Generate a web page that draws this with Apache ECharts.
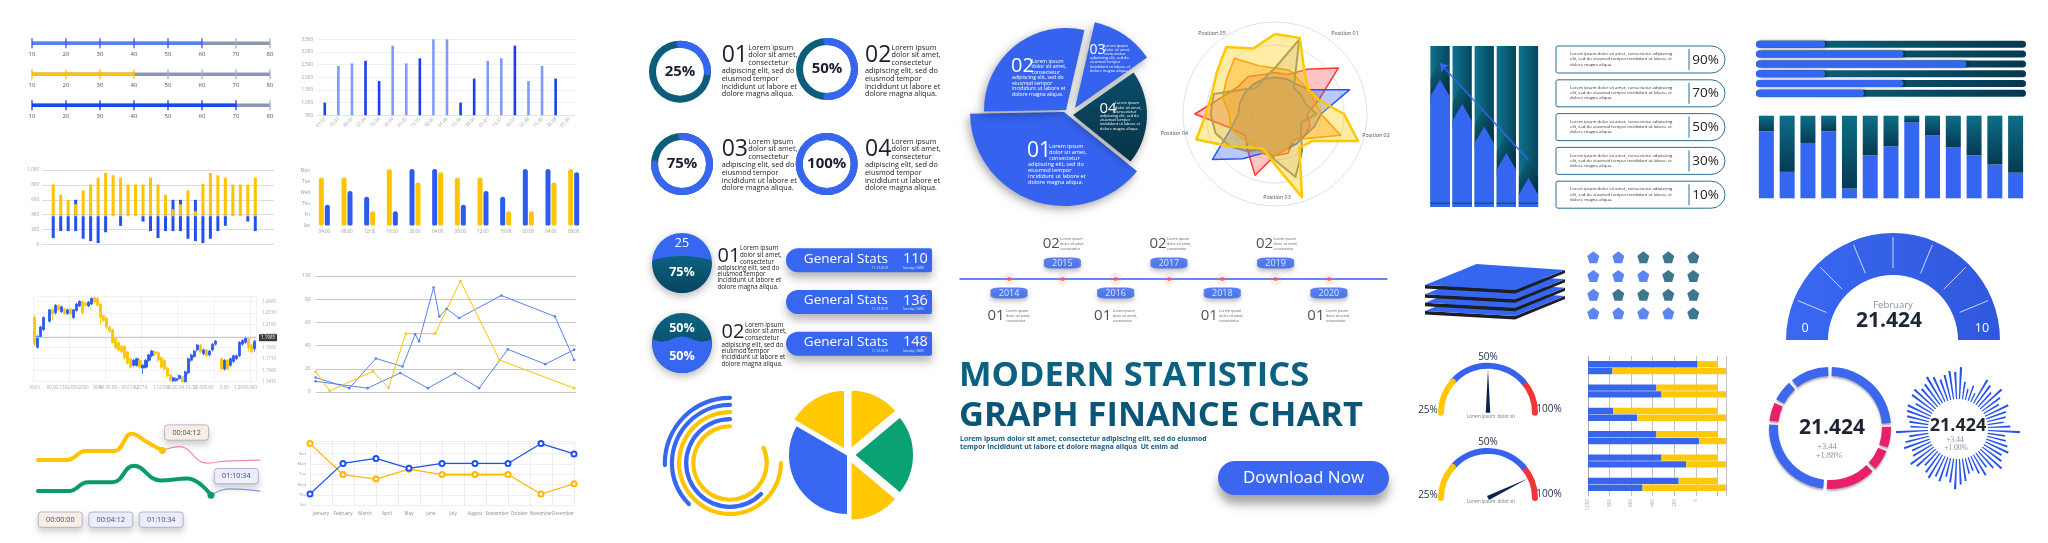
<!DOCTYPE html>
<html><head><meta charset="utf-8">
<script src="https://cdn.jsdelivr.net/npm/echarts@6.0.0/dist/echarts.min.js"></script>
<style>html,body{margin:0;padding:0;background:#fff;overflow:hidden}#c{width:2048px;height:543px}</style>
</head><body><div id="c"></div>
<script>
// ================= DATA =================
const sliderTicks = [10,20,30,40,50,60,70,80];
const sliderValues = [60,40,70];

const thinBarDates = ['01.03','15.03','30.03','01.04','15.04','30.04','01.05','15.05','30.05','01.06','15.06','30.06','01.07','15.07','30.07','01.08','15.08','30.08','01.09'];
const thinBarValues = [1000,2450,2550,2650,1850,3250,2550,2750,3550,3550,1000,1950,2650,2750,3250,1850,2450,1950,null];
const thinBarDark = [1,0,0,1,1,0,0,1,0,0,1,1,0,0,1,0,0,1,0];

const rangeBase = 380;
const rangeTop = [805,667,600,540,728,805,898,960,929,898,805,805,805,898,805,667,472,540,728,446,815,960,929,898,805,805,805,898];
const rangeBottom = [87,180,180,180,77,46,20,164,null,251,null,null,308,180,87,180,180,180,77,46,20,77,180,251,null,null,308,180];
const rangeBlueTop = [null,null,null,600,null,null,null,null,null,null,null,null,null,null,null,null,600,600,null,600,null,null,null,null,null,null,null,null];

const pairLabels = ['04:00','08:00','12:00','16:00','20:00','04:00','08:00','12:00','16:00','20:00','04:00','08:00'];
const pairYLabels = ['Sat','Fri','Thu','Wed','Tue','Mon'];
const pairLeft = [4.4,4.4,2.64,5.18,5.18,5.18,4.4,4.4,2.64,5.18,5.18,5.18];
const pairLeftTone = ['y','y','b','y','b','b','y','y','b','b','b','y'];
const pairRight = [1.9,3.17,1.3,1.3,3.94,4.9,1.9,3.17,1.3,1.3,3.94,4.9];
const pairRightTone = ['b','b','y','b','y','y','b','b','y','y','y','b'];

// [open, close, low, high]
const candles = [
 [250,180,175,256],[172,200,168,204],[200,225,197,228],[218,250,215,253],null,
 [240,270,236,272],[270,260,242,275],[262,282,258,285],[282,270,266,286],[265,278,262,281],
 [272,260,256,275],[260,270,257,273],[272,260,255,276],[250,270,246,272],[268,285,265,288],
 [280,292,277,295],[292,262,258,295],[288,282,279,291],[280,290,277,293],[285,300,282,302],
 [302,290,286,304],[300,282,278,303],[285,250,230,288],[255,242,238,258],[248,225,221,251],
 [225,215,210,228],[218,185,181,221],[195,170,166,198],[185,165,161,188],[175,160,156,178],
 [175,145,141,178],[160,130,126,163],[142,120,116,145],[125,138,121,141],[125,142,121,145],
 [138,120,116,141],[118,125,102,128],[120,138,116,141],[138,152,134,155],[150,162,146,165],
 [160,155,151,163],[158,138,134,161],[145,120,116,148],[138,115,111,141],[118,97,93,121],
 [100,85,82,103],[84,92,81,95],[85,90,82,93],[90,98,87,101],[95,82,80,98],
 [82,108,80,111],[105,142,101,145],[138,152,134,155],[148,162,144,165],[165,178,161,181],
 [178,160,156,181],[155,165,151,168],[165,150,146,168],[152,162,148,165],[165,180,161,183],
 [180,188,176,191],null,
 [142,115,111,145],[115,138,111,141],[138,115,111,141],[125,142,121,145],[135,150,131,153],
 [142,150,138,153],[150,185,146,188],[180,190,176,193],[185,197,181,200],[195,170,160,198],
 [178,160,156,181],[168,188,160,191]
];
const candleTicks = ['16:01','00.00.13','02/03/2020','90%','16.00.00 - 18.01.02','1.2774','1.12786','2020.04.19.12','10.000.00','0.00','1.2000.000'];
const candleMark = 197;

const lineYellow = [[0,17.4],[5.4,1],[22,17.8],[28,3.6],[34.6,50.3],[45.9,50.3],[55.6,95.7],[70.6,27.6],[99.3,3.3]];
const lineBlueA = [[0,12.5],[12.9,3.3],[23.1,28.9],[33.4,22],[38.2,49.7],[39.7,43.8],[45.3,90.1],[47.5,65.1],[50.3,71.7],[55.1,63.8],[71.3,83.2],[91.9,65.1],[99.3,27.6]];
const lineBlueB = [[0,9.2],[19.9,3.3],[32.5,16.4],[43.1,3.3],[53.4,16.1],[62.8,3.3],[73.8,36.8],[88.2,24],[99.3,36.5]];

const waveYellow = [[0,39.4],[28.7,39.4],[47.8,48.6],[76.5,48.6],[93.7,65.8],[109,57.4],[124.4,49]];
const wavePink = [[124.4,49],[141.6,52.8],[168.4,36.4],[187.5,38.3],[222,39.4]];
const waveGreen = [[0,8.4],[30.6,8.4],[49.8,17.2],[74.6,17.2],[95.7,33.7],[122.5,19.1],[149.3,21],[173,4.2]];
const waveBlue = [[173,4.2],[191.3,10.7],[222,8.4]];
const waveTimes = ['00:00:00','00:04:12','01:10:34'];

const monthNames = ['January','February','March','April','May','June','July','August','September','October','November','December'];
const monthYLabels = ['Sat','Thu','Wed','Tue','Mon','Sun'];
const monthBlue = [1.07,4.04,4.52,3.56,4.04,4.04,4.04,5.96,4.96];
const monthYellow = [5.96,2.96,2.52,3.48,2.96,2.96,2.96,1.07,2.07];

const donutPct = [25,50,75,100];
const donutNums = ['01','02','03','04'];
const lorem7 = ['Lorem ipsum','dolor sit amet,','consectetur','adipiscing elit, sed do','eiusmod tempor','incididunt ut labore et','dolore magna aliqua.'];

const waveTopText = ['25','50%'];
const waveBottomText = ['75%','50%'];
const statsLabel = 'General Stats';
const statsValues = [110,136,148];
const statsDate = '11.12.2019';

const arcValues = [81.7,62.5,75,37.5,25.5];     // inner -> outer
const arcTone = ['y','b','y','b','b'];
const pieValues = [50,80,50,120,60];
const pieTone = ['y','g','y','b','y'];
const pieOut = [1,1,1,0,1];

const segNames = ['02','03','04','01'];
const segValues = [104,42,74,140];

const radarLabels = ['Position 01','Position 02','Position 03','Position 04','Position 05'];
// read clockwise from 12 o'clock, 18 deg steps
const radarRed    = [0.45,0.45,0.6,0.85,0.5,0.35,0.4,0.4,0.35,0.45,0.45,0.7,0.5,0.4,0.5,0.87,0.6,0.5,0.5,0.45];
const radarBlue   = [0.4,0.4,0.4,0.45,0.85,0.5,0.45,0.4,0.4,0.4,0.45,0.45,0.6,0.84,0.5,0.4,0.4,0.4,0.4,0.4];
const radarOrange = [0.5,0.5,0.45,0.45,0.45,0.5,0.75,0.45,0.35,0.4,0.45,0.45,0.4,0.45,0.5,0.5,0.6,0.65,0.75,0.55];
const radarGrey   = [0.5,0.85,0.35,0.35,0.35,0.45,0.3,0.35,0.5,0.72,0.5,0.4,0.5,0.6,0.68,0.7,0.7,0.45,0.35,0.4];
const radarYellow = [0.87,0.87,0.55,0.45,0.5,0.75,0.95,0.5,0.45,0.95,0.55,0.4,0.45,0.6,0.9,0.75,0.72,0.78,0.9,0.75];

const timelineYears = [2014,2015,2016,2017,2018,2019,2020];
const loremShort = 'Lorem ipsum\ndolor sit amet,\nconsectetur';
const titleLines = ['MODERN STATISTICS','GRAPH FINANCE CHART'];
const subtitleLines = ['Lorem ipsum dolor sit amet, consectetur adipiscing elit, sed do eiusmod','tempor incididunt ut labore et dolore magna aliqua  Ut enim ad'];
const buttonText = 'Download Now';

const arrowBarValues = [79,64,50,33.5,18];
const percentValues = [90,70,50,30,10];
const loremBox = ['Lorem ipsum dolor sit amet, consectetur adipiscing','elit, sed do eiusmod tempor incididunt ut labore et','dolore magna aliqua.'];
const layerCount = 4;
const pentagonFilled = [2,3,1,4];
const pentagonCols = 5;

const progressValues = [25.6,54.6,78,25.6,54.6,40];
const columnValues = [81,32,67,81,12,52,63,92,76,62,52,41,31];

const gaugeMonth = 'February';
const gaugeValue = 21.424;
const gaugeRange = [0,10];
const ringSegments = [82,22,22,48,85,20,22,38];
const ringTone = ['b','r','r','r','b','r','b','b'];
const ringTexts = ['21.424','+3.44','+1.88%'];
const burstValues = [1.0,0.55,0.35,0.5,0.3,0.85,0.75,0.6,0.9,0.7,0.55,0.8,0.65,0.6,0.5,0.7,1.0,0.55,0.6,0.7,0.8,0.65,0.75,0.9,0.7,0.55,0.75,0.6,0.45,0.5,0.7,0.8,0.95,0.75,0.6,0.8,0.7,0.85,0.75,0.6,0.8,0.9,0.7,0.65,0.85,0.75,0.6,1.0,0.55,0.6,0.7,0.75,0.8,0.6,0.85,0.9,0.75,0.8,0.95,0.85,0.7,0.8,0.9,0.85];
const burstTexts = ['21.424','+3.44','+1.00%'];

const smallGaugeValues = [50,85.6];
const smallGaugeLabels = ['25%','50%','100%'];
const smallGaugeCaption = 'Lorem ipsum  dolor sit';

const hbarTopBlue = [79.4,49.6,18.2,49.6,53.3,65.7];
const hbarTopTotal = 93.7;
const hbarBotBlue = [17.7,53.3,35.6,80.4,71.2,39.5];
const hbarBotTotal = 100;
const hbarTicks = ['1,000','800','600','400','200','0'];

// ================= BUILD =================
const FONT = "'Open Sans','Noto Sans','DejaVu Sans',sans-serif";
const SERIF = "'Liberation Serif','DejaVu Serif',serif";
const BLUE = '#3766f0', TEAL = '#0b5d7a', YEL = '#ffc600', GREEN = '#0ba273';
const HID = {show:false};
const TR = 'rgba(0,0,0,0)';
const G = [];
const opt = {animation:false, backgroundColor:'#ffffff', textStyle:{fontFamily:FONT},
  grid:[], xAxis:[], yAxis:[], polar:[], angleAxis:[], radiusAxis:[], radar:[], series:[], graphic:{elements:G}};

function grid(g, xa, ya){
  opt.grid.push(Object.assign({containLabel:false, outerBoundsMode:'none'}, g));
  const gi = opt.grid.length-1;
  const xs = [].concat(xa).map(a=>{opt.xAxis.push(Object.assign({gridIndex:gi}, a)); return opt.xAxis.length-1;});
  const ys = [].concat(ya).map(a=>{opt.yAxis.push(Object.assign({gridIndex:gi}, a)); return opt.yAxis.length-1;});
  return {x:xs[0], y:ys[0], xs, ys};
}
function S(s){ opt.series.push(Object.assign({silent:true, animation:false}, s)); }
function T(x, y, text, s){
  s = Object.assign({fontSize:8, fill:'#222', align:'left', va:'middle', fontWeight:'normal', fontFamily:FONT, z:100}, s||{});
  const st = {text:text, fontFamily:s.fontFamily, fontSize:s.fontSize, fontWeight:s.fontWeight, fill:s.fill,
    align:s.align, textAlign:s.align, verticalAlign:s.va, textVerticalAlign:s.va};
  if (s.lineHeight) st.lineHeight = s.lineHeight;
  G.push({type:'text', x:x, y:y, z:s.z, silent:true, style:st});
}
function lin(c1, c2, horiz){ return {type:'linear', x:0, y:0, x2:horiz?1:0, y2:horiz?0:1, colorStops:[{offset:0,color:c1},{offset:1,color:c2}]}; }

// ---- Panel 1: sliders
const sliderLine = ['#5c7ef3','#ffc400','#1e46f0'];
const sliderTickC = ['#2f57f0','#ffb800','#1238e8'];
sliderValues.forEach((v,i)=>{
  const cy = 43.3 + i*31;
  const g = grid({left:32, top:cy-6, width:238, height:12},
    {type:'value', min:10, max:80, interval:10, axisLine:HID, axisTick:HID, splitLine:HID, axisLabel:{fontSize:6, color:'#4a5070', margin:2}},
    {type:'category', data:['s'], show:false});
  S({type:'bar', xAxisIndex:g.x, yAxisIndex:g.y, data:[sliderTicks[sliderTicks.length-1]], barWidth:3.5, barGap:'-100%', clip:true, itemStyle:{color:'#8e96b4'}});
  S({type:'bar', xAxisIndex:g.x, yAxisIndex:g.y, data:[v], barWidth:3.5, barGap:'-100%', clip:true, itemStyle:{color:sliderLine[i]}});
  S({type:'scatter', xAxisIndex:g.x, yAxisIndex:g.y, symbol:'rect', symbolSize:[1.6,10],
     data:sliderTicks.map(t=>({value:[t,'s'], itemStyle:{color:t<=v?sliderTickC[i]:'#a6adc6'}}))});
});

// ---- Panel 2: thin bars
{
const g = grid({left:318, top:39.3, width:258, height:76},
  {type:'category', data:thinBarDates, axisLine:{lineStyle:{color:'#e3e3e3'}}, axisTick:HID, axisLabel:{fontSize:4.5, color:'#9a9a9a', rotate:45, interval:0, margin:3}},
  {type:'value', min:500, max:3500, interval:500, axisLine:HID, axisTick:HID, axisLabel:{fontSize:4.5, color:'#9a9a9a', margin:5}, splitLine:{lineStyle:{color:'#efefef'}}});
S({type:'bar', xAxisIndex:g.x, yAxisIndex:g.y, barWidth:2.6, clip:true,
   data:thinBarValues.map((v,i)=>({value:v, itemStyle:{color:thinBarDark[i]?'#1a3ff0':'#7e9cf6'}}))});
}

// ---- Panel 3: range bars
{
const pad = a => [null].concat(a, [null,null]);
const cats = pad(rangeTop).map((_,i)=>i);
const g = grid({left:42, top:170, width:232, height:74.5},
  {type:'category', data:cats, axisLine:HID, axisTick:HID, axisLabel:HID},
  {type:'value', min:0, max:1000, interval:200, axisLine:HID, axisTick:HID, axisLabel:{fontSize:4.5, color:'#9a9a9a', margin:3}, splitLine:{lineStyle:{color:'#dcdcdc'}}});
const base = {type:'bar', xAxisIndex:g.x, yAxisIndex:g.y, barWidth:3, barGap:'-100%'};
S(Object.assign({}, base, {stack:'u', data:pad(rangeBlueTop.map(v=>v==null?null:rangeBase)), itemStyle:{color:TR}}));
S(Object.assign({}, base, {stack:'u', data:pad(rangeBlueTop.map(v=>v==null?null:v-rangeBase)), itemStyle:{color:'#2350f0'}}));
S(Object.assign({}, base, {stack:'y', data:pad(rangeTop.map(()=>rangeBase)), itemStyle:{color:TR}}));
S(Object.assign({}, base, {stack:'y', data:pad(rangeTop.map(v=>v-rangeBase)), itemStyle:{color:'#ffc400'}}));
S(Object.assign({}, base, {stack:'d', data:pad(rangeBottom.map(v=>v==null?null:v)), itemStyle:{color:TR}}));
S(Object.assign({}, base, {stack:'d', data:pad(rangeBottom.map(v=>v==null?null:rangeBase-v)), itemStyle:{color:'#2350f0'}}));
}

// ---- Panel 4: paired bars
{
const g = grid({left:313, top:168.9, width:272, height:56.5},
  {type:'category', data:pairLabels, axisLine:HID, axisTick:HID, axisLabel:{fontSize:4.5, color:'#9a9a9a', margin:4, interval:0}},
  {type:'value', min:0, max:5.2, interval:1, axisLine:HID, axisTick:HID, splitLine:HID, axisLabel:{fontSize:4.5, color:'#9a9a9a', margin:3, formatter:v=>pairYLabels[v]||''}});
const col = t => t==='y' ? '#ffc400' : '#2d5bf0';
S({type:'bar', xAxisIndex:g.x, yAxisIndex:g.y, barWidth:5, barGap:'20%', data:pairLeft.map((v,i)=>({value:v, itemStyle:{color:col(pairLeftTone[i]), borderRadius:[2.5,2.5,1.5,1.5]}}))});
S({type:'bar', xAxisIndex:g.x, yAxisIndex:g.y, barWidth:5, barGap:'20%', data:pairRight.map((v,i)=>({value:v, itemStyle:{color:col(pairRightTone[i]), borderRadius:[2.5,2.5,1.5,1.5]}}))});
}

// ---- Panel 5: candlestick
{
const g = grid({left:33, top:296.4, width:223, height:85.3},
  {type:'category', data:candles.map((_,i)=>i), axisLine:HID, axisTick:HID,
   axisLabel:{fontSize:4.5, color:'#a8a8a8', interval:6, margin:4, formatter:(v,i)=>candleTicks[Math.round(i/7)]||''},
   splitLine:{show:true, interval:11, lineStyle:{color:'#f0f0f0'}}},
  {type:'value', position:'right', min:82, max:305, interval:30, axisLine:HID, axisTick:HID,
   axisLabel:{fontSize:4.5, color:'#a8a8a8', margin:6, showMaxLabel:false, formatter:v=>(1.1+v/2000).toFixed(4)},
   splitLine:{lineStyle:{color:'#f3f3f3'}}});
S({type:'candlestick', xAxisIndex:g.x, yAxisIndex:g.y, barWidth:2.6,
   data:candles.map(c=>c||'-'),
   itemStyle:{color:'#2a5af0', color0:'#ffc400', borderColor:'#2a5af0', borderColor0:'#ffc400', borderWidth:0.8},
   markLine:{silent:true, symbol:'none', data:[{yAxis:candleMark}], lineStyle:{color:'#c9c9c9', type:'solid', width:1},
     label:{position:'end', formatter:()=>(1.1+candleMark/2000).toFixed(4), fontSize:4.5, color:'#fff', backgroundColor:'#3a3a3a', padding:[1,2], distance:3}}});
}

// ---- Panel 6: multi line
{
const g = grid({left:315.7, top:276, width:260.3, height:116},
  {type:'value', min:0, max:100, show:false},
  {type:'value', min:0, max:100, interval:20, axisLine:HID, axisTick:HID, axisLabel:{fontSize:5, color:'#9a9a9a', margin:5}, splitLine:{lineStyle:{color:'#c8c8c8'}}});
const ln = (d,c)=>S({type:'line', xAxisIndex:g.x, yAxisIndex:g.y, data:d, symbol:'circle', symbolSize:2.6, lineStyle:{color:c, width:1}, itemStyle:{color:c}});
ln(lineBlueB,'#5a80f0'); ln(lineBlueA,'#5a80f0'); ln(lineYellow,'#ffc400');
}

// ---- Panel 7: wave lines
{
const g = grid({left:38, top:429.5, width:222, height:70},
  {type:'value', min:0, max:222, show:false}, {type:'value', min:0, max:70, show:false});
const wl = (d,c,w,endDot)=>S({type:'line', xAxisIndex:g.x, yAxisIndex:g.y, data:d, smooth:0.45, clip:false, symbol:'none', lineStyle:{color:c, width:w, cap:'round'}, z:3,
  markPoint: endDot ? {symbol:'circle', symbolSize:7, data:[{coord:d[d.length-1]}], itemStyle:{color:c}, label:HID} : undefined});
wl(wavePink,'#ef8fac',1.2); wl(waveBlue,'#86a0f0',1.2);
wl(waveYellow,'#ffc400',4,true); wl(waveGreen,'#0b9a6b',4,true);
const box = (x,y,t,fill)=>G.push({type:'rect', z:50, shape:{x:x,y:y,width:44,height:15.3,r:3}, style:{fill:fill, stroke:'#9ea7cc', lineWidth:0.8, shadowBlur:6, shadowOffsetY:4, shadowColor:'rgba(0,0,0,0.18)'}},
  {type:'text', z:51, x:x+22, y:y+7.8, style:{text:t, fontFamily:FONT, fontSize:7.2, fill:'#3b4a86', align:'center', verticalAlign:'middle', textAlign:'center', textVerticalAlign:'middle'}});
box(164.6,424.9,waveTimes[1],'#fdf1e5');
box(214.3,468.5,waveTimes[2],'#eef0fb');
box(38.3,512,waveTimes[0],'#fdf1e5');
box(88.8,512,waveTimes[1],'#eef0fb');
box(139.2,512,waveTimes[2],'#eef0fb');
}

// ---- Panel 8: months
{
const g = grid({left:310, top:441.1, width:264, height:64},
  [{type:'category', data:monthBlue.map((_,i)=>i), boundaryGap:false, show:false},
   {type:'category', data:monthNames, position:'bottom', axisLine:HID, axisTick:HID, axisLabel:{fontSize:4.5, color:'#8a8a8a', margin:6, interval:0}, splitLine:{show:true, lineStyle:{color:'#ececec'}}}],
  {type:'value', min:0, max:6.2, interval:1, axisLine:HID, axisTick:HID, axisLabel:{fontSize:4, color:'#9a9a9a', margin:4, formatter:v=>monthYLabels[v]||''}, splitLine:{lineStyle:{color:'#efefef'}}});
S({type:'line', xAxisIndex:g.xs[0], yAxisIndex:g.y, data:monthYellow.map((v,i)=>(i>=4&&i<=6)?v:null), symbol:'none', lineStyle:{color:'rgba(255,200,0,0.45)', width:3.5}});
S({type:'line', xAxisIndex:g.xs[0], yAxisIndex:g.y, data:monthYellow, clip:false, symbol:'emptyCircle', symbolSize:5, lineStyle:{color:'#ffb700', width:1.2}, itemStyle:{color:'#ffb700', borderWidth:1.2}});
S({type:'line', xAxisIndex:g.xs[0], yAxisIndex:g.y, data:monthBlue, clip:false, symbol:'emptyCircle', symbolSize:5, lineStyle:{color:'#1f4ff0', width:1.2}, itemStyle:{color:'#1f4ff0', borderWidth:1.2}});
}

// ---- Donuts
const donutCenters = [[680,71.7],[827,69],[682,164],[826.7,164]];
donutPct.forEach((p,i)=>{
  const c = donutCenters[i];
  G.push({type:'circle', shape:{cx:c[0], cy:c[1], r:25}, style:{fill:'#fff', shadowBlur:6, shadowOffsetY:2, shadowColor:'rgba(0,0,0,0.3)'}});
  S({type:'gauge', center:c, radius:31, startAngle:90, endAngle:-270, min:0, max:100,
     axisLine:{lineStyle:{width:7, color:[[1,TEAL]]}}, progress:{show:true, width:7, roundCap:true, itemStyle:{color:BLUE}},
     pointer:HID, anchor:HID, axisTick:HID, splitLine:HID, axisLabel:HID, title:HID,
     detail:{formatter:'{value}%', fontSize:15, fontFamily:FONT, color:'#1b2030', offsetCenter:[0,0]},
     data:[{value:p}]});
  const nx = i%2===0 ? 721.7 : 865;
  const ny = i<2 ? 55.7 : 149.3;
  T(nx, ny, donutNums[i], {fontSize:23, fill:'#1b2030'});
  const ys = i<2 ? [47.7,55.3,63,71,79,86.7,94] : [141.7,149.3,157,165,172.7,180.7,188.3];
  lorem7.forEach((l,k)=>T(k<3?nx+26.5:nx, ys[k], l, {fontSize:7.3, fill:'#222'}));
});

// ---- Wave circles
function waveRegion(cx, cy, r, level, amp, cycles, phase){
  const pts=[], N=48;
  for(let k=0;k<=N;k++){ const x=-r+2*r*k/N, h=Math.sqrt(Math.max(0,r*r-x*x));
    let w = level + amp*Math.sin((x+r)/(2*r)*Math.PI*2*cycles + phase);
    w = Math.max(-h, Math.min(h, w)); pts.push([cx+x, cy+w]); }
  for(let k=N;k>=0;k--){ const x=-r+2*r*k/N, h=Math.sqrt(Math.max(0,r*r-x*x)); pts.push([cx+x, cy+h]); }
  return pts;
}
{
const wc = [[682,263],[682,343]];
G.push({type:'circle', shape:{cx:wc[0][0], cy:wc[0][1], r:30}, style:{fill:BLUE, shadowBlur:8, shadowOffsetY:3, shadowColor:'rgba(0,0,0,0.3)'}});
G.push({type:'polygon', shape:{points:waveRegion(wc[0][0],wc[0][1],30,-3,4,0.5,Math.PI)}, style:{fill:lin('#0b6380','#08435e')}});
G.push({type:'circle', shape:{cx:wc[1][0], cy:wc[1][1], r:30}, style:{fill:lin('#0b6380','#08435e'), shadowBlur:8, shadowOffsetY:3, shadowColor:'rgba(0,0,0,0.3)'}});
G.push({type:'polygon', shape:{points:waveRegion(wc[1][0],wc[1][1],30,-4,2.5,1.5,0)}, style:{fill:BLUE}});
T(682,243.5,waveTopText[0],{fontSize:12.5, fill:'#fff', align:'center'});
T(682,272.7,waveBottomText[0],{fontSize:12.5, fill:'#fff', align:'center', fontWeight:'bold'});
T(682,328,waveTopText[1],{fontSize:12.5, fill:'#fff', align:'center', fontWeight:'bold'});
T(682,356.7,waveBottomText[1],{fontSize:12.5, fill:'#fff', align:'center', fontWeight:'bold'});
T(717.5,256.7,'01',{fontSize:20, fill:'#1b2030'});
[248.3,255,262.3,268.3,274.3,280.7,287.3].forEach((y,k)=>T(k<3?740:717.5, y, lorem7[k], {fontSize:6.2}));
T(721.5,332,'02',{fontSize:20, fill:'#1b2030'});
[325,331.7,338.3,345,351.7,357.7,364.3].forEach((y,k)=>T(k<3?745:721.5, y, lorem7[k], {fontSize:6.2}));
}

// ---- General stats
statsValues.forEach((v,i)=>{
  const y = [248.3,290,331.7][i];
  G.push({type:'rect', shape:{x:786, y:y, width:146, height:24, r:[12,2,2,12]}, style:{fill:BLUE, shadowBlur:9, shadowOffsetY:6, shadowColor:'rgba(0,0,0,0.28)'}});
  T(888, y+10.5, statsLabel, {fontSize:13.5, fill:'#fff', align:'right'});
  T(903, y+10.5, String(v), {fontSize:14.5, fill:'#fff'});
  T(888, y+19.5, statsDate, {fontSize:3.2, fill:'#dfe6ff', align:'right'});
  T(903, y+19.5, 'Saturday 1/8/89', {fontSize:2.8, fill:'#dfe6ff'});
  G.push({type:'rect', z:100, shape:{x:925, y:y+4.5, width:3, height:1.5}, style:{fill:'#ff4040'}});
});

// ---- Concentric arcs (polar)
{
opt.polar.push({center:[730,463], radius:[33.2,68.7]});
const pi = opt.polar.length-1;
opt.angleAxis.push({polarIndex:pi, type:'value', min:0, max:100, startAngle:90, clockwise:false, show:false});
opt.radiusAxis.push({polarIndex:pi, type:'category', data:arcValues.map((_,i)=>'r'+i), show:false});
S({type:'bar', coordinateSystem:'polar', polarIndex:pi, barWidth:4.2, roundCap:true,
   data:arcValues.map((v,i)=>({value:v, itemStyle:{color:arcTone[i]==='y'?'#ffc400':BLUE}}))});
}

// ---- Pie
S({type:'pie', center:[848,455], radius:60, startAngle:90, selectedMode:'multiple', selectedOffset:6, label:HID, labelLine:HID,
   itemStyle:{borderColor:'#fff', borderWidth:2},
   data:pieValues.map((v,i)=>({value:v, name:'p'+i, selected:!!pieOut[i], itemStyle:{color:pieTone[i]==='y'?'#ffc800':pieTone[i]==='g'?GREEN:BLUE}}))});

// ---- Exploded pie
{
const segStyle = {'02':{c:[1066,110], r:82, col:'#3563ef'}, '03':{c:[1075,108], r:88, col:'#3563ef'}, '04':{c:[1073,115], r:74, col:lin('#0b4d6b','#073246')}, '01':{c:[1064,112], r:94, col:'#3563ef'}};
['01','02','03','04'].forEach(nm=>{
  const p = segStyle[nm];
  S({type:'pie', center:p.c, radius:p.r, startAngle:181, clockwise:true, label:HID, labelLine:HID, emphasis:{disabled:true},
     data:segValues.map((v,j)=>({value:v, name:segNames[j], itemStyle: segNames[j]===nm ? {color:p.col, shadowBlur:10, shadowOffsetX:-2, shadowOffsetY:3, shadowColor:'rgba(0,0,0,0.35)'} : {color:TR}}))});
});
T(1027,151,'01',{fontSize:21, fill:'#fff'});
[146.7,152.3,158,164,170,176,182].forEach((y,k)=>T(k<3?1049:1028, y, lorem7[k], {fontSize:5.6, fill:'#fff'}));
T(1011,66.7,'02',{fontSize:20, fill:'#fff'});
[61.7,66.7,72.3,77.7,83.3,89,94.3].forEach((y,k)=>T(k<3?1031.5:1012, y, lorem7[k], {fontSize:5.2, fill:'#fff'}));
T(1089.5,50,'03',{fontSize:14, fill:'#fff'});
[45.7,50,54,58.3,62.3,66.7,70.7].forEach((y,k)=>T(k<3?1104:1090, y, lorem7[k], {fontSize:3.9, fill:'#fff'}));
T(1099.5,108.3,'04',{fontSize:15, fill:'#fff'});
[103,107.7,112,116,120.3,124.3,128.7].forEach((y,k)=>T(k<3?1115:1100, y, lorem7[k], {fontSize:3.9, fill:'#fff'}));
}

// ---- Radar (ECharts lays indicators counter-clockwise, so reorder the clockwise readings)
{
opt.radar.push({center:[1275,114], radius:92, startAngle:90, shape:'circle', splitNumber:4,
  indicator:radarRed.map(()=>({name:'', max:1})), axisName:HID, splitArea:HID, axisLine:HID, axisTick:HID,
  splitLine:{lineStyle:{color:'#dde0f6', width:1}}});
const ccw = a => [a[0]].concat(a.slice(1).reverse());
const rs = [[radarRed,'#ff2d2d','rgba(255,90,90,0.5)',1.5],[radarBlue,'#2052ff','rgba(60,100,240,0.5)',1.5],[radarOrange,'#ff8a00','rgba(255,150,20,0.55)',1.5],
            [radarGrey,'#8c8c7c','rgba(150,140,110,0.3)',2],[radarYellow,'#ffc800','rgba(255,200,0,0.5)',2.5]];
S({type:'radar', radarIndex:0, symbol:'none',
   data:rs.map(r=>({value:ccw(r[0]), lineStyle:{color:r[1], width:r[3]}, areaStyle:{color:r[2]}, itemStyle:{color:r[1]}}))});
const rp = [[1345,33.3],[1376,135],[1277,197.7],[1174.3,133.3],[1212,33.3]];
radarLabels.forEach((l,i)=>T(rp[i][0], rp[i][1], l, {fontSize:5.3, fill:'#4a4f60', align:'center'}));
}

// ---- Timeline
{
const g = grid({left:960, top:259, width:427, height:40},
  {type:'value', min:2013.08, max:2021.09, axisLine:{show:true, onZero:true, lineStyle:{color:'#2f62f0', width:1.5}}, axisTick:HID, axisLabel:HID, splitLine:HID},
  {type:'value', min:-1, max:1, show:false});
const pts = timelineYears.map(y=>[y,0]);
S({type:'scatter', xAxisIndex:g.x, yAxisIndex:g.y, data:pts, symbolSize:13, itemStyle:{color:'rgba(255,130,90,0.16)'}});
S({type:'scatter', xAxisIndex:g.x, yAxisIndex:g.y, data:pts, symbolSize:4.2, itemStyle:{color:'#ff5a2a'}, z:4});
S({type:'scatter', xAxisIndex:g.x, yAxisIndex:g.y, symbol:'roundRect', symbolSize:[37,11], z:5,
   data:timelineYears.map((y,i)=>({value:[y,0], symbolOffset:[0, i%2? -16 : 14]})),
   itemStyle:{color:'#3264f0', shadowBlur:4, shadowOffsetY:3, shadowColor:'rgba(0,0,0,0.3)'},
   label:{show:true, position:'inside', formatter:p=>String(p.value[0]), color:'#fff', fontSize:9, fontFamily:FONT}});
S({type:'scatter', xAxisIndex:g.x, yAxisIndex:g.y, symbolSize:0, z:5,
   data:timelineYears.map((y,i)=>({value:[y,0], label:{offset: i%2? [-11,-35] : [-13,37], formatter: i%2?'02':'01'}})),
   label:{show:true, position:'inside', fontSize:15, color:'#1b2030', fontFamily:FONT}});
S({type:'scatter', xAxisIndex:g.x, yAxisIndex:g.y, symbolSize:0, z:5,
   data:timelineYears.map((y,i)=>({value:[y,0], label:{offset: i%2? [-2,-35] : [-3,37]}})),
   label:{show:true, position:'inside', align:'left', verticalAlign:'middle', formatter:loremShort, fontSize:3.6, lineHeight:5, color:'#333', fontFamily:FONT}});
}

// ---- Title block
{
const tf = "'Open Sans','Noto Sans',sans-serif";
G.push({type:'text', z:100, x:959, y:394, style:{text:titleLines[0], fontFamily:tf, fontSize:34.5, fontWeight:'bold', fill:'#0c6180', align:'left', verticalAlign:'bottom', textAlign:'left', textVerticalAlign:'bottom'}});
G.push({type:'text', z:100, x:959, y:433.5, style:{text:titleLines[1], fontFamily:tf, fontSize:34.5, fontWeight:'bold', fill:'#0b5677', align:'left', verticalAlign:'bottom', textAlign:'left', textVerticalAlign:'bottom'}});
T(960,439.5,subtitleLines[0],{fontSize:6.9, fontWeight:'bold', fill:'#165a86'});
T(960,447.5,subtitleLines[1],{fontSize:6.9, fontWeight:'bold', fill:'#165a86'});
G.push({type:'rect', shape:{x:1218, y:461, width:171, height:34, r:17}, style:{fill:'#3a66f0', shadowBlur:10, shadowOffsetY:9, shadowColor:'rgba(0,0,0,0.35)'}});
T(1303.5,478,buttonText,{fontSize:17, fill:'#fff', align:'center'});
}

// ---- Arrow bars
{
const g = grid({left:1429, top:46, width:110.5, height:161},
  {type:'category', data:arrowBarValues.map((_,i)=>i), show:false},
  {type:'value', min:0, max:100, show:false});
S({type:'bar', xAxisIndex:g.x, yAxisIndex:g.y, data:arrowBarValues, barWidth:19.3, itemStyle:{color:TR},
   showBackground:true, backgroundStyle:{color:lin('#0f748c','#064560',true)}});
S({type:'custom', xAxisIndex:g.x, yAxisIndex:g.y, data:arrowBarValues.map((v,i)=>[i,v]), encode:{x:0,y:1}, z:3,
   renderItem:(params, api)=>{
     const top = api.coord([api.value(0), api.value(1)]), base = api.coord([api.value(0), 0]);
     const hw = api.size([1,0])[0]*0.875/2, sh = 16.5, x = top[0];
     return {type:'group', children:[
       {type:'polygon', shape:{points:[[x-hw,top[1]+sh+6],[x-hw,top[1]+sh-18],[x,top[1]-20],[x+hw,top[1]+sh-18],[x+hw,top[1]+sh+6]]},
        style:{fill:lin('rgba(2,30,45,0)','rgba(2,30,45,0.7)')}},
       {type:'polygon', shape:{points:[[x-hw,base[1]],[x-hw,top[1]+sh],[x,top[1]],[x+hw,top[1]+sh],[x+hw,base[1]]]}, style:{fill:'#3566f0'}},
       {type:'rect', shape:{x:x-hw, y:base[1]-4.5, width:hw*2, height:1.6}, style:{fill:'#0c5a70'}}
     ]};
   },
   markLine:{silent:true, symbol:['none','arrow'], symbolSize:8, lineStyle:{color:'#3566f0', width:1.3, type:'solid'}, label:HID,
     data:[[{coord:[4,29.2]},{coord:[0,89.3]}]]}});
}

// ---- Percent boxes
percentValues.forEach((p,i)=>{
  const y = 46 + i*33.8;
  G.push({type:'rect', shape:{x:1556, y:y, width:169, height:27, r:[2,13.5,13.5,2]}, style:{fill:'#fff', stroke:'#2f6f8e', lineWidth:1}});
  G.push({type:'line', shape:{x1:1689, y1:y+3, x2:1689, y2:y+24}, style:{stroke:'#2f6f8e', lineWidth:1}});
  T(1705.5, y+13.8, p+'%', {fontSize:13.5, fill:'#222', align:'center'});
  loremBox.forEach((l,k)=>T(1570, y+8+k*5.2, l, {fontSize:4.3, fill:'#333'}));
});

// ---- Layers
for (let k=layerCount-1; k>=0; k--){
  const dy = [0,9.3,17.7,26][k];
  const f = [[1425,285+dy],[1476.7,264+dy],[1565,270+dy],[1515,290+dy]];
  G.push({type:'polygon', shape:{points:[[1425,285+dy],[1515,290+dy],[1565,270+dy],[1565,273+dy],[1515,293.5+dy],[1425,288.5+dy]]}, style:{fill:'#1d1d24'}});
  G.push({type:'polygon', shape:{points:f}, style:{fill:'#3566f0'}});
}

// ---- Pentagons
{
const g = grid({left:1580.8, top:248, width:125, height:74.7},
  {type:'value', min:-0.5, max:4.5, show:false}, {type:'value', min:-0.5, max:3.5, inverse:true, show:false});
const data = [];
pentagonFilled.forEach((f,r)=>{ for(let c=0;c<pentagonCols;c++) data.push({value:[c,r], itemStyle:{color:c<f?'#3566f0':'#0b5570'}}); });
S({type:'scatter', xAxisIndex:g.x, yAxisIndex:g.y, symbol:'path://M50,2 L98,38 L80,96 L20,96 L2,38 Z', symbolSize:12, data:data});
}

// ---- Progress bars
{
const g = grid({left:1756, top:39.4, width:270, height:58.8},
  {type:'value', min:0, max:100, show:false},
  {type:'category', data:progressValues.map((_,i)=>i), inverse:true, show:false});
S({type:'bar', xAxisIndex:g.x, yAxisIndex:g.y, data:progressValues, barWidth:7,
   showBackground:true, backgroundStyle:{color:lin('#0b6a82','#053850',true), borderRadius:3.5},
   itemStyle:{color:'#3566f0', borderRadius:3.5, shadowBlur:3, shadowOffsetX:2, shadowColor:'rgba(0,0,0,0.45)'}});
}

// ---- Column stacks
{
const g = grid({left:1756, top:115.7, width:270, height:82.6},
  {type:'category', data:columnValues.map((_,i)=>i), show:false},
  {type:'value', min:0, max:100, show:false});
S({type:'bar', xAxisIndex:g.x, yAxisIndex:g.y, stack:'c', barWidth:15, data:columnValues, itemStyle:{color:'#3566f0'}});
S({type:'bar', xAxisIndex:g.x, yAxisIndex:g.y, stack:'c', barWidth:15, data:columnValues.map(v=>100-v), itemStyle:{color:lin('#0c6f88','#053a52')}});
}

// ---- Big gauge
S({type:'gauge', center:[1893,340], radius:107, startAngle:180, endAngle:0, min:gaugeRange[0], max:gaugeRange[1], splitNumber:1,
   axisLine:{lineStyle:{width:42, color:[[1,lin('#3a68f2','#2f58dc',true)]]}},
   splitLine:HID, axisTick:HID, pointer:HID, anchor:HID, progress:HID, axisLabel:HID,
   title:{offsetCenter:[0,-35], fontSize:9.5, color:'#8a90a8', fontFamily:FONT},
   detail:{offsetCenter:[-4,-19], fontSize:21, fontWeight:'bold', color:'#1d2738', fontFamily:FONT, formatter:'{value}'},
   data:[{value:gaugeValue, name:gaugeMonth}]});
S({type:'gauge', center:[1893,340], radius:107, startAngle:157.5, endAngle:22.5, min:0, max:6, splitNumber:6,
   axisLine:{show:false, lineStyle:{width:0}}, axisTick:HID, axisLabel:HID, pointer:HID, anchor:HID, title:HID, detail:HID,
   splitLine:{distance:4, length:31, lineStyle:{color:'rgba(255,255,255,0.75)', width:1}}, data:[{value:0}]});
T(1805,328,String(gaugeRange[0]),{fontSize:12.5, fill:'#fff', align:'center'});
T(1982,328,String(gaugeRange[1]),{fontSize:12.5, fill:'#fff', align:'center'});

// ---- Segmented ring
S({type:'pie', center:[1830,428], radius:[52,61], startAngle:90, padAngle:3.5, label:HID, labelLine:HID,
   itemStyle:{shadowBlur:2, shadowOffsetY:2, shadowColor:'rgba(0,0,0,0.3)'},
   data:ringSegments.map((v,i)=>({value:v, itemStyle:{color:ringTone[i]==='b'?'#3d68ee':'#e8206b'}}))});
T(1832,428,ringTexts[0],{fontSize:21, fontWeight:'bold', fill:'#1e2330', align:'center'});
T(1827,446.5,ringTexts[1],{fontSize:8.5, fill:'#8a8fa8', align:'center', fontFamily:SERIF});
T(1829,455.5,ringTexts[2],{fontSize:8.5, fill:'#8a8fa8', align:'center', fontFamily:SERIF});

// ---- Burst
{
opt.polar.push({center:[1958,429], radius:[30,62]});
const pi = opt.polar.length-1;
opt.angleAxis.push({polarIndex:pi, type:'category', data:burstValues.map((_,i)=>i), startAngle:90, show:false});
opt.radiusAxis.push({polarIndex:pi, type:'value', min:0, max:1, show:false});
S({type:'bar', coordinateSystem:'polar', polarIndex:pi, barWidth:'38%', data:burstValues, itemStyle:{color:'#2552ef'}});
T(1958,425.5,burstTexts[0],{fontSize:18, fontWeight:'bold', fill:'#232830', align:'center'});
T(1955,440.5,burstTexts[1],{fontSize:7.5, fill:'#8a8fa8', align:'center', fontFamily:SERIF});
T(1956,448.5,burstTexts[2],{fontSize:7.5, fill:'#8a8fa8', align:'center', fontFamily:SERIF});
}

// ---- Small gauges
smallGaugeValues.forEach((v,i)=>{
  const cy = 412.7 + i*85.3;
  S({type:'gauge', center:[1488,cy], radius:50, startAngle:180, endAngle:0, min:0, max:100,
     axisLine:{roundCap:true, lineStyle:{width:6, color:[[0.23,'#ffc800'],[0.77,'#3563ef'],[1,'#f23636']]}},
     splitLine:HID, axisTick:HID, axisLabel:HID, anchor:HID, progress:HID, detail:HID,
     pointer:{icon:'path://M2,0 L4,40 L0,40 Z', length:44, width:4.5, offsetCenter:[0,0], itemStyle:{color:'#0d2150'}},
     title:{offsetCenter:[3,4], fontSize:4.6, color:'#777', fontFamily:FONT},
     data:[{value:v, name:smallGaugeCaption}]});
  T(1428, cy-2.7, smallGaugeLabels[0], {fontSize:10, fill:'#1e2a4a', align:'center'});
  T(1488, cy-55.5, smallGaugeLabels[1], {fontSize:10, fill:'#1e2a4a', align:'center'});
  T(1549, cy-3.5, smallGaugeLabels[2], {fontSize:10, fill:'#1e2a4a', align:'center'});
});

// ---- Horizontal grouped bars
{
const g = grid({left:1588, top:356, width:138, height:140},
  [{type:'value', min:0, max:100, show:false},
   {type:'value', min:0, max:6.4, interval:1, position:'bottom', axisLine:HID, axisTick:HID, splitLine:{show:true, lineStyle:{color:'#c4c4c4'}},
    axisLabel:{rotate:90, fontSize:4.5, color:'#9a9a9a', margin:3, formatter:v=>hbarTicks[v]||''}}],
  {type:'category', data:hbarTopBlue.map((_,i)=>i), inverse:true, axisLine:{show:true, lineStyle:{color:'#aaa'}}, axisTick:HID, axisLabel:HID});
const b = {type:'bar', xAxisIndex:g.xs[0], yAxisIndex:g.y, barWidth:6.3, barGap:'8%'};
S(Object.assign({}, b, {stack:'t', data:hbarTopBlue, itemStyle:{color:'#3864ee'}}));
S(Object.assign({}, b, {stack:'t', data:hbarTopBlue.map(v=>hbarTopTotal-v), itemStyle:{color:'#ffc90a'}}));
S(Object.assign({}, b, {stack:'b', data:hbarBotBlue, itemStyle:{color:'#3864ee'}}));
S(Object.assign({}, b, {stack:'b', data:hbarBotBlue.map(v=>hbarBotTotal-v), itemStyle:{color:'#ffc90a'}}));
}

const chart = echarts.init(document.getElementById('c'), null, {renderer:'canvas'});
chart.setOption(opt);
</script>
</body></html>
